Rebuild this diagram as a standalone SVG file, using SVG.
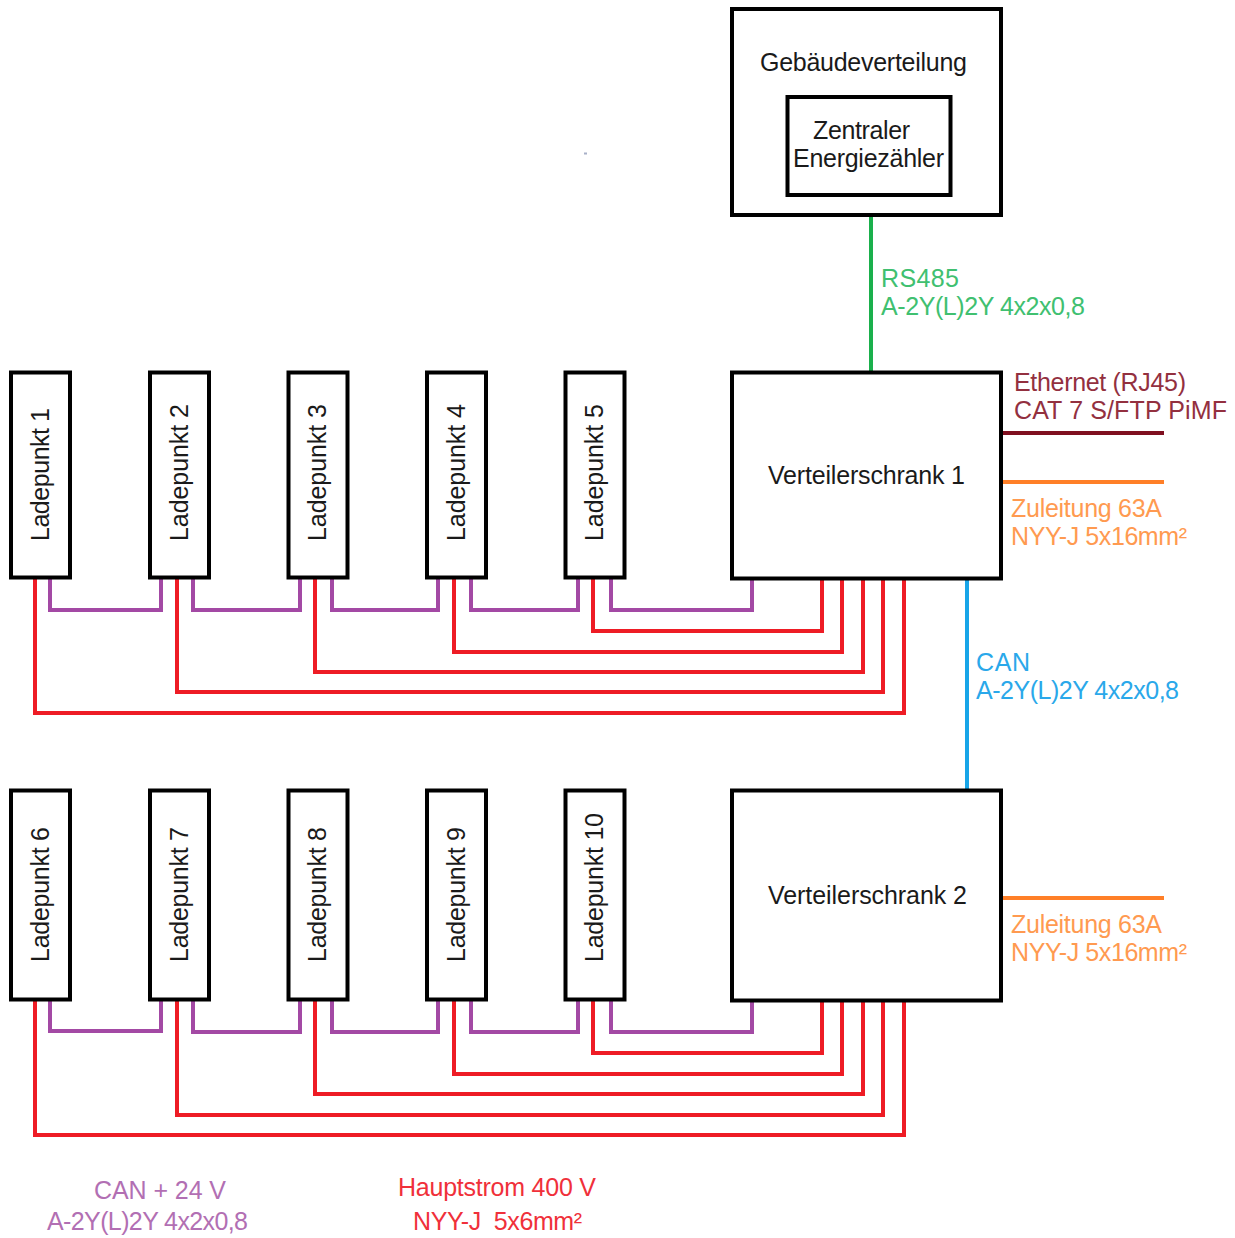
<svg xmlns="http://www.w3.org/2000/svg" width="1235" height="1238" viewBox="0 0 1235 1238">
<style>
text{font-family:"Liberation Sans",Arial,sans-serif;font-size:25px;fill:#1a1a1a}
.v{letter-spacing:-.08px}
.b{fill:#fff;stroke:#000;stroke-width:4}
.w{fill:none;stroke-width:4}
.r{stroke:#ee1c25}.p{stroke:#a349a4}
.pt{fill:#b26fb3}.rt{fill:#f0303a}.ot{fill:#ff9a50}.ct{fill:#2aa8ea}.gt{fill:#40c070}.mt{fill:#93303f}
</style>
<rect width="1235" height="1238" fill="#fff"/>
<rect x="584" y="152.500" width="3" height="2" fill="#a8b0c8"/>
<g id="connectors">
<g class="w p">
<path d="M50 578V610H161V578M193 578V610H300V578M332 578V610H438V578M471 578V610H578V578M611 578V610H752V578"/>
<path d="M50 1000V1031H161V1000M193 1000V1032H300V1000M332 1000V1032H438V1000M471 1000V1032H578V1000M611 1000V1032H752V1000"/>
</g>
<g class="w r">
<path d="M593 578V631H822V578M454 578V652H842V578M315 578V672H863V578M177 578V692H883V578M35 578V713H904V578"/>
<path d="M593 1000V1053H822V1000M454 1000V1074H842V1000M315 1000V1094H863V1000M177 1000V1115H883V1000M35 1000V1135H904V1000"/>
</g>
<path class="w" stroke="#1ab04c" d="M871 195V372"/>
<path class="w" stroke="#18a5e8" d="M967 578V790"/>
<path class="w" stroke="#7f0f1f" d="M1002 433H1164"/>
<path class="w" stroke="#ff7f27" d="M1002 482H1164M1002 898H1164"/>
</g>
<g id="gebaeudeverteilung"><rect class="b" x="732" y="9" width="269" height="206"/><text x="760" y="71" textLength="207">Gebäudeverteilung</text></g>
<g id="energiezaehler"><rect class="b" x="787.500" y="97" width="163" height="98"/><text x="813" y="139" textLength="97">Zentraler</text><text x="793" y="167" textLength="151">Energiezähler</text></g>
<g id="verteilerschrank1"><rect class="b" x="732" y="372.500" width="269" height="206"/><text x="768" y="484" textLength="197">Verteilerschrank 1</text></g>
<g id="verteilerschrank2"><rect class="b" x="732" y="790.500" width="269" height="210"/><text x="768" y="904" textLength="199">Verteilerschrank 2</text></g>
<g id="lp1"><rect class="b" x="11" y="372.500" width="59" height="205"/><text transform="translate(49 541) rotate(-90)" textLength="133">Ladepunkt 1</text></g>
<g id="lp2"><rect class="b" x="150" y="372.500" width="59" height="205"/><text transform="translate(188 541) rotate(-90)" textLength="137">Ladepunkt 2</text></g>
<g id="lp3"><rect class="b" x="288.500" y="372.500" width="59" height="205"/><text transform="translate(326 541) rotate(-90)" textLength="137">Ladepunkt 3</text></g>
<g id="lp4"><rect class="b" x="427" y="372.500" width="59" height="205"/><text transform="translate(465 541) rotate(-90)" textLength="137">Ladepunkt 4</text></g>
<g id="lp5"><rect class="b" x="565.500" y="372.500" width="59" height="205"/><text transform="translate(603 541) rotate(-90)" textLength="137">Ladepunkt 5</text></g>
<g id="lp6"><rect class="b" x="11" y="790.500" width="59" height="209"/><text transform="translate(49 962) rotate(-90)" textLength="135">Ladepunkt 6</text></g>
<g id="lp7"><rect class="b" x="150" y="790.500" width="59" height="209"/><text transform="translate(188 962) rotate(-90)" textLength="135">Ladepunkt 7</text></g>
<g id="lp8"><rect class="b" x="288.500" y="790.500" width="59" height="209"/><text transform="translate(326 962) rotate(-90)" textLength="135">Ladepunkt 8</text></g>
<g id="lp9"><rect class="b" x="427" y="790.500" width="59" height="209"/><text transform="translate(465 962) rotate(-90)" textLength="135">Ladepunkt 9</text></g>
<g id="lp10"><rect class="b" x="565.500" y="790.500" width="59" height="209"/><text transform="translate(603 962) rotate(-90)" textLength="149">Ladepunkt 10</text></g>
<g id="labels">
<text class="gt" x="881" y="287" textLength="78">RS485</text><text class="gt" x="881" y="315" textLength="204">A-2Y(L)2Y 4x2x0,8</text>
<text class="mt" x="1014" y="391" textLength="172">Ethernet (RJ45)</text><text class="mt" x="1014" y="419" textLength="213">CAT 7 S/FTP PiMF</text>
<text class="ot" x="1011" y="517" textLength="151">Zuleitung 63A</text><text class="ot" x="1011" y="545" textLength="176">NYY-J 5x16mm²</text>
<text class="ct" x="976" y="671" textLength="54">CAN</text><text class="ct" x="976" y="699" textLength="203">A-2Y(L)2Y 4x2x0,8</text>
<text class="ot" x="1011" y="933" textLength="151">Zuleitung 63A</text><text class="ot" x="1011" y="961" textLength="176">NYY-J 5x16mm²</text>
<text class="pt" x="94" y="1199" textLength="132">CAN + 24 V</text><text class="pt" x="47" y="1230" textLength="201">A-2Y(L)2Y 4x2x0,8</text>
<text class="rt" x="398" y="1196" textLength="198">Hauptstrom 400 V</text><text class="rt" x="413" y="1230" xml:space="preserve" textLength="169">NYY-J  5x6mm²</text>
</g>
</svg>
